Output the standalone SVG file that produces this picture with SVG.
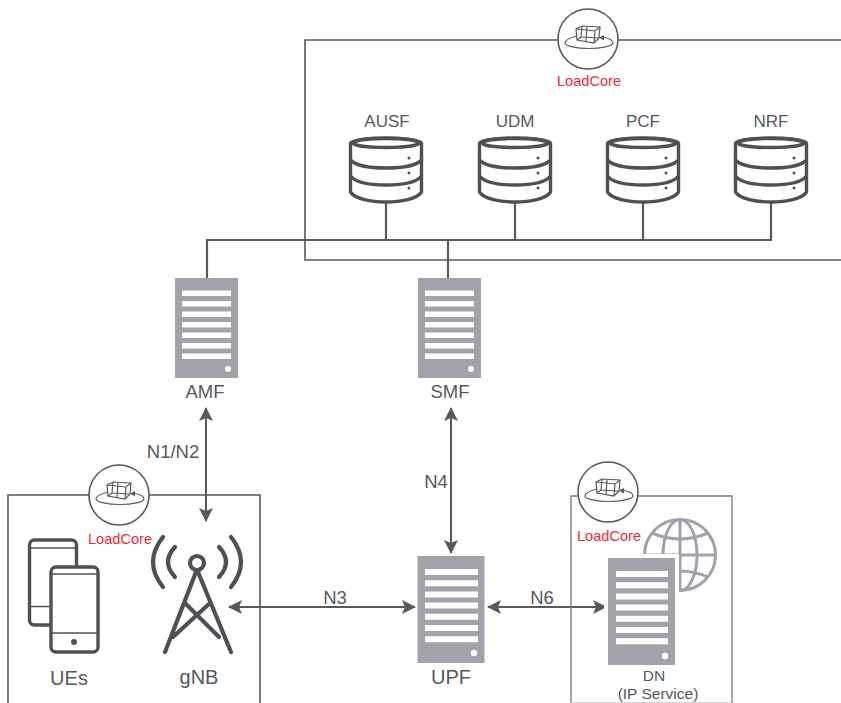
<svg xmlns="http://www.w3.org/2000/svg" width="841" height="703" viewBox="0 0 841 703">
<style>
text{font-family:"Liberation Sans",Arial,sans-serif;fill:#55585c;font-size:18.500px;text-anchor:middle}
text.lc{fill:#ee2b36;font-size:14.600px}
text.top{font-size:17px}
text.big{font-size:20px}
text.sm{font-size:15.500px}
.box{fill:none;stroke:#58595b;stroke-width:1.600}
.wire{fill:none;stroke:#58595b;stroke-width:2.200}
.arr{fill:none;stroke:#58595b;stroke-width:2}
.srv{fill:#a2a2aa}
.bar{fill:#fff}
.ico{fill:none;stroke:#4d5156;stroke-width:3.400;stroke-linecap:round;stroke-linejoin:round}
.twr{fill:none;stroke:#4d5156;stroke-width:4.200;stroke-linecap:round;stroke-linejoin:round}
.thin{fill:none;stroke:#4d5156;stroke-width:1.400}
.db{fill:#fff;stroke:#4d5156;stroke-width:3.400;stroke-linejoin:round}
</style>
<defs>
<marker id="ah" viewBox="0 0 14 14" refX="13" refY="7" markerWidth="14" markerHeight="14" markerUnits="userSpaceOnUse" orient="auto-start-reverse"><path d="M0 0L14 7L0 14L3 7Z" fill="#58595b"/></marker>
<symbol id="lc" overflow="visible">
<circle r="30" fill="#fff" stroke="#58595b" stroke-width="1.600"/>
<g fill="none" stroke="#58595b" stroke-width="1.200">
<path d="M-12-10L-6-13L12-12L11-1L6 4L-11 1Z"/>
<path d="M-12-10L7-8L12-12M7-8L6 4M-6-13L-7-2L-11 1M-7-2L11-1M-1-12L-2 2"/>
<path d="M-11-3C-19-1-23 1-23 4C-23 7-11 9.500 1 9.500C13 9.500 25 7 25 4C25 1 20-1 14-2"/>
</g>
<path d="M11-1.500L16-4V1.500Z" fill="#58595b"/>
</symbol>
<symbol id="dbi" overflow="visible">
<path class="db" d="M-35.500-59V-10C-31-3-15 0 0 0C15 0 31-3 35.500-10V-59C35.500-62 15-64 0-64C-15-64-35.500-62-35.500-59Z"/>
<ellipse class="db" cx="0" cy="-59" rx="33" ry="4.500"/>
<path class="ico" d="M-35.500-42C-30-36-15-34 0-34C15-34 30-36 35.500-42M-35.500-26C-30-19-15-17 0-17C15-17 30-19 35.500-26"/>
<circle cx="23" cy="-44" r="1.500" fill="#4d5156"/><circle cx="23" cy="-29" r="1.500" fill="#4d5156"/><circle cx="23" cy="-14" r="1.500" fill="#4d5156"/>
</symbol>
</defs>

<g id="connectors">
<path class="box" d="M558 40H305V260H841M618 40H841"/>
<path class="wire" d="M207 278V240H771V202M386 202V240M515 202V240M643 202V240M448 240V278"/>
<path class="arr" d="M206 408V521" marker-start="url(#ah)" marker-end="url(#ah)"/>
<path class="arr" d="M451 408V553" marker-start="url(#ah)" marker-end="url(#ah)"/>
<path class="arr" d="M229 607H415" marker-start="url(#ah)" marker-end="url(#ah)"/>
<path class="arr" d="M488 607H606" marker-start="url(#ah)" marker-end="url(#ah)"/>
</g>

<g id="core-network"><use href="#lc" x="588" y="39"/><text class="lc" x="589" y="86">LoadCore</text></g>

<g id="ausf"><text class="top" x="387" y="127">AUSF</text><use href="#dbi" x="386" y="202"/></g>
<g id="udm"><text class="top" x="515" y="127">UDM</text><use href="#dbi" x="515" y="202"/></g>
<g id="pcf"><text class="top" x="643" y="127">PCF</text><use href="#dbi" x="643" y="202"/></g>
<g id="nrf"><text class="top" x="771" y="127">NRF</text><use href="#dbi" x="771" y="202"/></g>

<g id="amf">
<rect class="srv" x="175" y="278" width="63" height="100"/>
<path class="bar" d="M182 290.500h49v5.500h-49zM182 301h49v5.500h-49zM182 311.500h49v5.500h-49zM182 322h49v5.500h-49zM182 332.500h49v5.500h-49zM182 343h49v5.500h-49zM182 353.500h49v5.500h-49z"/>
<circle class="bar" cx="228" cy="369" r="3"/>
<text x="205" y="398">AMF</text>
</g>
<g id="smf">
<rect class="srv" x="418" y="278" width="63" height="100"/>
<path class="bar" d="M425 290.500h49v5.500h-49zM425 301h49v5.500h-49zM425 311.500h49v5.500h-49zM425 322h49v5.500h-49zM425 332.500h49v5.500h-49zM425 343h49v5.500h-49zM425 353.500h49v5.500h-49z"/>
<circle class="bar" cx="471" cy="369" r="3"/>
<text x="450" y="398">SMF</text>
</g>

<g id="ran">
<path class="box" d="M89 495H8V703M149 495H260V703"/>
<use href="#lc" x="119" y="495"/>
<text class="lc" x="120" y="544">LoadCore</text>
</g>
<g id="ues">
<rect class="ico" x="29.500" y="540" width="47" height="85" rx="5"/>
<path class="thin" d="M30 548H76M30 606.500H50"/>
<rect x="50" y="566" width="49" height="86" rx="5" fill="#fff"/>
<rect class="ico" x="51" y="567" width="47" height="85" rx="5"/>
<path class="thin" d="M52 574H97M52 633H97"/>
<circle cx="74" cy="642" r="3" fill="#4d5156"/>
<text class="big" x="69" y="685">UEs</text>
</g>
<g id="gnb">
<circle class="twr" cx="197" cy="563" r="7"/>
<path class="twr" d="M196 572L165 652M198 572L231 652M185 603L219 637M210 603L173 637"/>
<path class="twr" d="M163 537Q143 562 163 587M175 547Q161 562 175 577M231 537Q251 562 231 587M219 547Q233 562 219 577"/>
<text class="big" x="199" y="684">gNB</text>
</g>

<g id="upf">
<rect class="srv" x="417.500" y="556" width="67" height="107"/>
<path class="bar" d="M425 569h53v6h-53zM425 580.200h53v6h-53zM425 591.400h53v6h-53zM425 602.600h53v6h-53zM425 613.800h53v6h-53zM425 625h53v6h-53zM425 636.200h53v6h-53z"/>
<circle class="bar" cx="474" cy="653" r="3.200"/>
<text class="big" x="451" y="684">UPF</text>
</g>

<g id="dn">
<path d="M638 496H732V703M578 496H571V703" fill="none" stroke="#77787c" stroke-width="1.300"/>
<path d="M571 702.500H732" stroke="#d8d8dc" stroke-width="1"/>
<use href="#lc" x="608" y="492"/>
<text class="lc" x="609" y="541">LoadCore</text>
<g fill="none" stroke="#a2a2aa" stroke-width="3">
<circle cx="680" cy="555" r="35.500"/>
<ellipse cx="680" cy="555" rx="17" ry="35.500"/>
<path d="M680 519.500V590.500M644.500 555H715.500M652 533Q680 545 708 533M652 577Q680 565 708 577"/>
</g>
<rect x="604" y="554" width="75" height="115" fill="#fff"/>
<rect class="srv" x="608" y="558" width="67" height="107"/>
<path class="bar" d="M616 571h52v6h-52zM616 582.200h52v6h-52zM616 593.400h52v6h-52zM616 604.600h52v6h-52zM616 615.800h52v6h-52zM616 627h52v6h-52zM616 638.200h52v6h-52z"/>
<circle class="bar" cx="665" cy="656" r="3.200"/>
<text class="sm" x="654" y="681">DN</text>
<text class="sm" x="658" y="698.500">(IP Service)</text>
</g>

<g id="labels">
<text x="173" y="458">N1/N2</text>
<text x="436" y="488">N4</text>
<text x="335" y="604">N3</text>
<text x="542" y="604">N6</text>
</g>
</svg>
